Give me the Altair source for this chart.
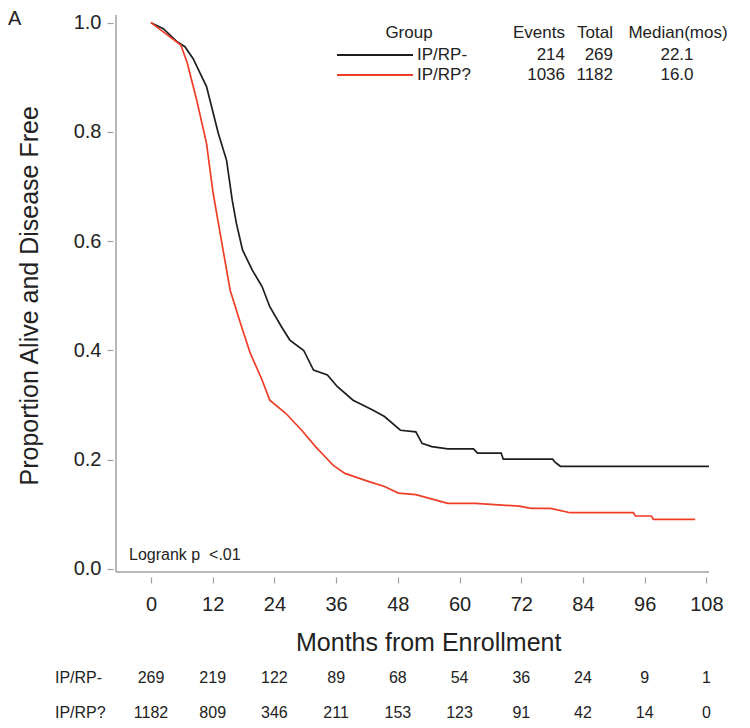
import altair as alt
import pandas as pd

# ---- data ----
months_neg = [0, 2.4, 5.1, 6.6, 8.2, 10.8, 13.1, 14.7, 15.8, 16.6, 17.8, 19.7, 21.6, 23.1,
              25.4, 27.0, 29.7, 31.6, 34.3, 36.2, 39.3, 43.1, 45.4, 48.5, 51.5, 52.7, 54.6,
              57.7, 62.7, 63.5, 68.1, 68.5, 78.1, 78.5, 79.6, 108.5]
surv_neg = [1.0, 0.989, 0.965, 0.956, 0.934, 0.883, 0.797, 0.748, 0.675, 0.633, 0.584, 0.547,
            0.517, 0.48, 0.443, 0.419, 0.40, 0.364, 0.355, 0.334, 0.309, 0.291, 0.279, 0.254,
            0.251, 0.23, 0.224, 0.220, 0.22, 0.212, 0.212, 0.201, 0.201, 0.196, 0.188, 0.188]

months_q = [0, 2.4, 5.8, 7.0, 8.9, 10.8, 12.0, 13.1, 15.4, 17.4, 19.3, 21.6, 23.1, 26.2, 29.3,
            32.0, 33.9, 35.4, 37.7, 42.4, 45.4, 48.1, 51.5, 55.4, 57.7, 63.1, 71.6, 73.9, 77.7,
            81.5, 93.8, 94.2, 97.3, 97.7, 105.8]
surv_q = [1.0, 0.983, 0.959, 0.928, 0.858, 0.779, 0.693, 0.633, 0.51, 0.45, 0.395, 0.346, 0.309,
          0.285, 0.254, 0.224, 0.205, 0.19, 0.175, 0.16, 0.151, 0.139, 0.136, 0.126, 0.12, 0.12,
          0.115, 0.111, 0.111, 0.103, 0.103, 0.097, 0.097, 0.091, 0.091]

groups = ["IP/RP-", "IP/RP?"]
colors = ["#1e1e1e", "#ef3d26"]
events = ["214", "1036"]
totals = ["269", "1182"]
medians = ["22.1", "16.0"]

risk_months = [0, 12, 24, 36, 48, 60, 72, 84, 96, 108]
risk_neg = [269, 219, 122, 89, 68, 54, 36, 24, 9, 1]
risk_q = [1182, 809, 346, 211, 153, 123, 91, 42, 14, 0]

FONT = "Liberation Sans"
TXT = "#222222"
AX = "#a0a0a0"

curves = pd.concat([
    pd.DataFrame({"month": months_neg, "surv": surv_neg, "group": groups[0], "ord": range(len(months_neg))}),
    pd.DataFrame({"month": months_q, "surv": surv_q, "group": groups[1], "ord": range(len(months_q))}),
])

xscale = alt.Scale(domain=[-6.8, 108.5], nice=False, zero=False)
yscale = alt.Scale(domain=[-0.0055, 1.014], nice=False, zero=False)

lines = alt.Chart(curves).mark_line(strokeWidth=1.7).encode(
    x=alt.X("month:Q", scale=xscale,
            axis=alt.Axis(values=risk_months, domain=False, offset=5, tickSize=6,
                          tickColor=AX, tickWidth=1.2, labelFontSize=20, labelFont=FONT,
                          labelColor=TXT, labelPadding=11, grid=False, title=None)),
    y=alt.Y("surv:Q", scale=yscale,
            axis=alt.Axis(values=[0, 0.2, 0.4, 0.6, 0.8, 1.0], format=".1f", domain=False,
                          offset=3, tickSize=6, tickColor=AX, tickWidth=1.2, labelFontSize=20,
                          labelFont=FONT, labelColor=TXT, labelPadding=6, grid=False, title=None)),
    color=alt.Color("group:N", scale=alt.Scale(domain=groups, range=colors), legend=None),
    order="ord:Q",
)

# frame lines (left and bottom axis lines)
frame_left = alt.Chart(pd.DataFrame({"a": [0]})).mark_rule(color=AX, strokeWidth=1.5).encode(
    x=alt.value(0), y=alt.value(0), y2=alt.value(557))
frame_bottom = alt.Chart(pd.DataFrame({"a": [0]})).mark_rule(color=AX, strokeWidth=1.5).encode(
    y=alt.value(557), x=alt.value(0), x2=alt.value(593))

# titles
xtitle = alt.Chart(pd.DataFrame({"t": ["Months from Enrollment"], "m": [54]})).mark_text(
    font=FONT, fontSize=25, color=TXT, align="center", baseline="middle").encode(
    x=alt.X("m:Q", scale=xscale), y=alt.value(628), text="t:N")
ytitle = alt.Chart(pd.DataFrame({"t": ["Proportion Alive and Disease Free"], "s": [0.5]})).mark_text(
    font=FONT, fontSize=25, color=TXT, align="center", baseline="middle", angle=270).encode(
    x=alt.value(-86), y=alt.Y("s:Q", scale=yscale), text="t:N")

panel = alt.Chart(pd.DataFrame({"t": ["A"]})).mark_text(
    font=FONT, fontSize=20, color=TXT, align="left", baseline="middle").encode(
    x=alt.value(-108), y=alt.value(4), text="t:N")

logrank = alt.Chart(pd.DataFrame({"t": ["Logrank p\u00a0\u00a0<.01"]})).mark_text(
    font=FONT, fontSize=16, color=TXT, align="left", baseline="middle").encode(
    x=alt.value(13), y=alt.value(540), text="t:N")

# risk table
risk_df = pd.concat([
    pd.DataFrame({"m": risk_months, "n": [str(v) for v in risk_neg], "row": 0}),
    pd.DataFrame({"m": risk_months, "n": [str(v) for v in risk_q], "row": 1}),
])
risk_rows = []
for r, yv in [(0, 663), (1, 698)]:
    risk_rows.append(alt.Chart(risk_df[risk_df.row == r]).mark_text(
        font=FONT, fontSize=16, color=TXT, align="center", baseline="middle").encode(
        x=alt.X("m:Q", scale=xscale), y=alt.value(yv), text="n:N"))
    risk_rows.append(alt.Chart(pd.DataFrame({"t": [groups[r]]})).mark_text(
        font=FONT, fontSize=16, color=TXT, align="left", baseline="middle").encode(
        x=alt.value(-61), y=alt.value(yv), text="t:N"))

# legend table
leg = []
def txt(s, x, y, align):
    return alt.Chart(pd.DataFrame({"t": [s]})).mark_text(
        font=FONT, fontSize=17, color=TXT, align=align, baseline="middle").encode(
        x=alt.value(x), y=alt.value(y), text="t:N")

leg.append(txt("Group", 293, 18, "center"))
leg.append(txt("Events", 449, 18, "right"))
leg.append(txt("Total", 479, 18, "center"))
leg.append(txt("Median(mos)", 562, 18, "center"))
for i, yv in enumerate([40, 60]):
    leg.append(alt.Chart(pd.DataFrame({"a": [0]})).mark_rule(color=colors[i], strokeWidth=1.8).encode(
        x=alt.value(221), x2=alt.value(297), y=alt.value(yv)))
    leg.append(txt(groups[i], 301, yv, "left"))
    leg.append(txt(events[i], 449, yv, "right"))
    leg.append(txt(totals[i], 497, yv, "right"))
    leg.append(txt(medians[i], 561, yv, "center"))

chart = alt.layer(frame_left, frame_bottom, lines, xtitle, ytitle, panel, logrank,
                  *risk_rows, *leg).properties(
    width=593, height=557,
    background="white",
    autosize=alt.AutoSizeParams(type="none"),
    padding={"left": 108, "top": 7, "right": 33, "bottom": 150},
).configure_view(strokeWidth=0, strokeOpacity=0)

chart.save("out.html", embed_options={"renderer": "svg", "actions": False})
